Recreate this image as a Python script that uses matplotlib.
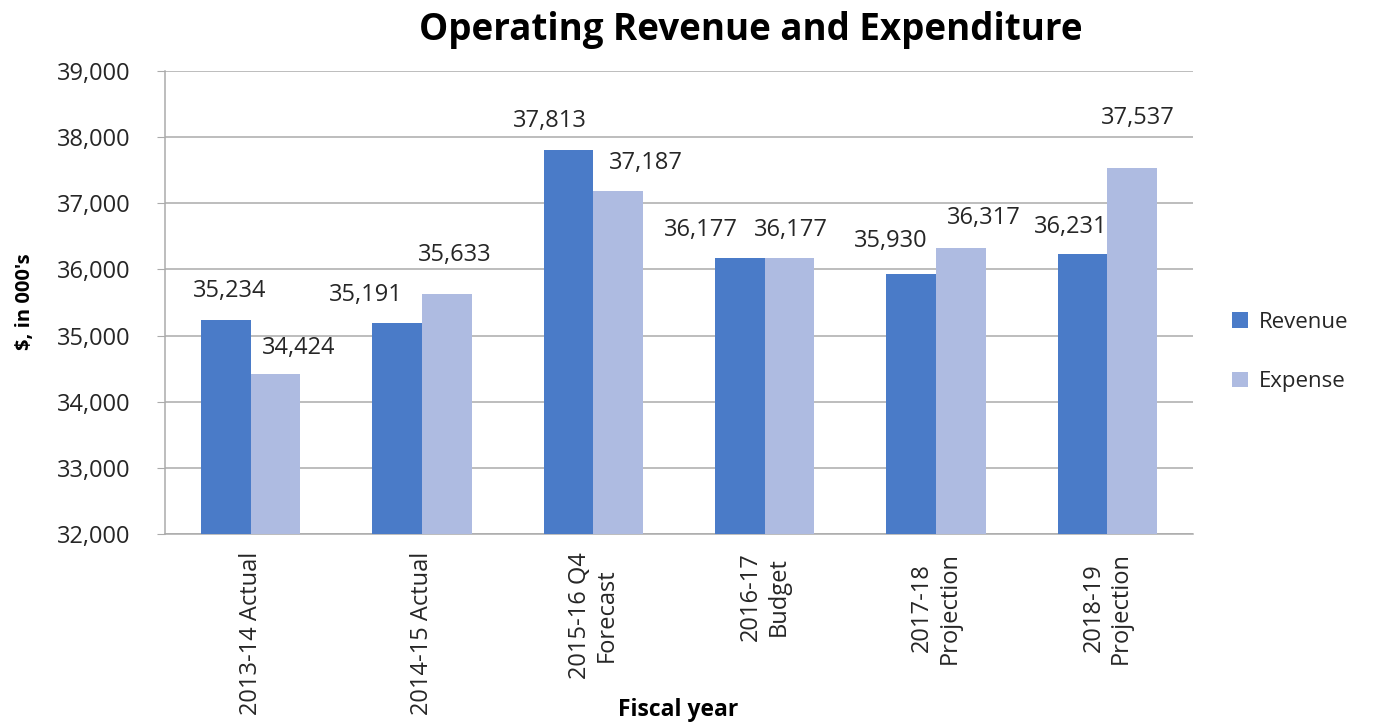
import numpy as np
import matplotlib
matplotlib.use("Agg")
import matplotlib.pyplot as plt

# data
categories = ["2013-14 Actual", "2014-15 Actual", "2015-16 Q4\nForecast",
              "2016-17\nBudget", "2017-18\nProjection", "2018-19\nProjection"]
revenue = [35234, 35191, 37813, 36177, 35930, 36231]
expense = [34424, 35633, 37187, 36177, 36317, 37537]
y_ticks = [32000, 33000, 34000, 35000, 36000, 37000, 38000, 39000]

# label nudges (pixels, relative to top centre of each bar) to mimic the Excel layout
rev_dx = [4, -31, -19, -39, -20, -12]
rev_dy = [29, 28, 29, 28, 33, 27]
exp_dx = [23, 8, 28, 1, 23, 6]
exp_dy = [26, 39, 28, 28, 30, 50]

REV_COLOR = "#4A7BC8"
EXP_COLOR = "#AEBBE1"
GRID_COLOR = "#ABABAB"
FONT = ["Open Sans", "DejaVu Sans"]

plt.rcParams["font.family"] = FONT
plt.rcParams["text.color"] = "#262626"

W, H = 1385, 725
fig = plt.figure(figsize=(W / 100, H / 100), dpi=100)
ax = fig.add_axes([165 / W, 1 - 534 / H, (1193 - 165) / W, (534 - 71) / H])

x = np.arange(len(categories))
width = 0.29
bars_rev = ax.bar(x - width / 2, revenue, width, color=REV_COLOR, label="Revenue", zorder=3)
bars_exp = ax.bar(x + width / 2, expense, width, color=EXP_COLOR, label="Expense", zorder=3)

px = 0.72  # pixels -> points at 100 dpi
for bars, vals, dxs, dys in [(bars_rev, revenue, rev_dx, rev_dy), (bars_exp, expense, exp_dx, exp_dy)]:
    for b, v, dx, dy in zip(bars, vals, dxs, dys):
        ax.annotate(f"{v:,}", (b.get_x() + b.get_width() / 2, v),
                    xytext=(dx * px, dy * px), textcoords="offset points",
                    ha="center", va="center", fontsize=17, color="#262626")

ax.set_xlim(-0.5, len(categories) - 0.5)
ax.set_ylim(32000, 39000)
ax.set_yticks(y_ticks)
ax.set_yticklabels([f"{t:,}" for t in y_ticks], fontsize=17, color="#262626")
ax.set_xticks(x)
ax.set_xticklabels(categories, rotation=90, fontsize=17, color="#262626",
                   ha="center", va="top", multialignment="center")

ax.tick_params(axis="y", length=6, color=GRID_COLOR, pad=19)
ax.tick_params(axis="x", length=0, pad=13)
ax.grid(axis="y", color=GRID_COLOR, linewidth=1.1, zorder=0)
for side in ["top", "right"]:
    ax.spines[side].set_visible(False)
for side in ["left", "bottom"]:
    ax.spines[side].set_color(GRID_COLOR)
    ax.spines[side].set_linewidth(1.1)

fig.text(751 / W, 1 - 30 / H, "Operating Revenue and Expenditure",
         ha="center", va="center", fontsize=26.5, fontweight="bold", color="black")
fig.text(25 / W, 1 - 302 / H, "$, in 000's", rotation=90, ha="center", va="center",
         fontsize=14.5, fontweight="bold", color="black")
fig.text(678 / W, 1 - 710 / H, "Fiscal year", ha="center", va="center",
         fontsize=16.5, fontweight="bold", color="black")

fig.legend(handles=[bars_rev, bars_exp], loc="center left",
           bbox_to_anchor=(1212 / W, 1 - 352 / H), frameon=False, fontsize=16,
           handlelength=0.7, handleheight=0.7, handletextpad=0.5, labelspacing=1.75)

fig.savefig("out.png", dpi=100)
